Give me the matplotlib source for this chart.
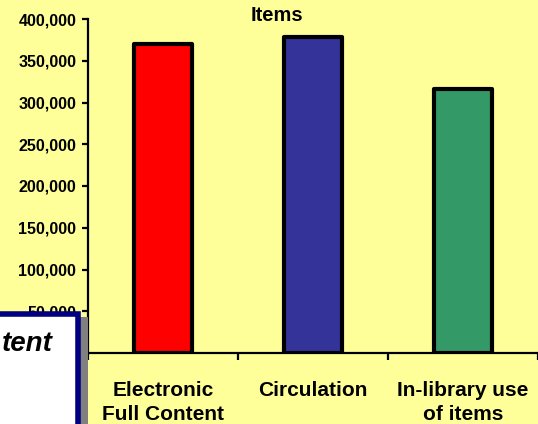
#!/usr/bin/env python3
# -*- coding: utf-8 -*-

import numpy as np
import matplotlib.pyplot as plt
from matplotlib.patches import Rectangle
from matplotlib.ticker import FixedLocator

# dados: uso de itens por tipo
categorias = ['Electronic\nFull Content', 'Circulation', 'In-library use\nof items']
valores = [370000, 378000, 316000]
cores = ['#FF0000', '#333399', '#339966']
ticks_y = [0, 50000, 100000, 150000, 200000, 250000, 300000, 350000, 400000]
rotulos_y = ['0', '50,000', '100,000', '150,000', '200,000', '250,000',
             '300,000', '350,000', '400,000']

fundo = '#FFFF99'
plt.rcParams['font.family'] = ['Liberation Sans', 'DejaVu Sans']

fig = plt.figure(figsize=(5.38, 4.24), dpi=100)
fig.patch.set_facecolor(fundo)

# area do grafico (vai até a borda direita)
ax = fig.add_axes([88 / 538, 71 / 424, 450 / 538, 334 / 424])
ax.set_facecolor(fundo)

x = np.arange(len(categorias))
ax.bar(x, valores, width=0.385, color=cores, edgecolor='black',
       linewidth=3.0, joinstyle='round', zorder=3)

ax.set_xlim(-0.5, 2.5)
ax.set_ylim(0, 400000)

# eixos
for lado in ['top', 'right']:
    ax.spines[lado].set_visible(False)
for lado in ['left', 'bottom']:
    ax.spines[lado].set_linewidth(1.6)
    ax.spines[lado].set_zorder(4)

ax.set_yticks(ticks_y)
ax.set_yticklabels(rotulos_y, fontsize=11.6, fontweight='bold')
ax.tick_params(axis='y', length=4, width=1.6, pad=4.5)

ax.set_xticks(x)
ax.set_xticklabels(categorias, fontsize=15, fontweight='bold', linespacing=1.35)
ax.xaxis.set_minor_locator(FixedLocator([-0.5, 0.5, 1.5, 2.5]))
ax.tick_params(axis='x', which='major', length=0, pad=20)
ax.tick_params(axis='x', which='minor', length=5, width=1.6)

# titulo
fig.text(277 / 538, (424 - 21) / 424, 'Items', ha='center', va='baseline',
         fontsize=14.5, fontweight='bold')

# caixa de texto sobreposta no canto inferior esquerdo (com sombra)
sombra = Rectangle((-20 / 538, -20 / 424), 108 / 538, (424 - 317 + 20) / 424,
                   transform=fig.transFigure, facecolor='#808080',
                   edgecolor='none', zorder=10)
caixa = Rectangle((-20 / 538, -10 / 424), 98 / 538, (424 - 314 + 10) / 424,
                  transform=fig.transFigure, facecolor='white',
                  edgecolor='#000080', linewidth=4, zorder=11)
fig.add_artist(sombra)
fig.add_artist(caixa)
fig.text(53 / 538, (424 - 351) / 424, 'tent', ha='right', va='baseline',
         fontsize=20, fontweight='semibold', fontstyle='italic', zorder=12)

fig.savefig('out.png', dpi=100, facecolor=fundo)
